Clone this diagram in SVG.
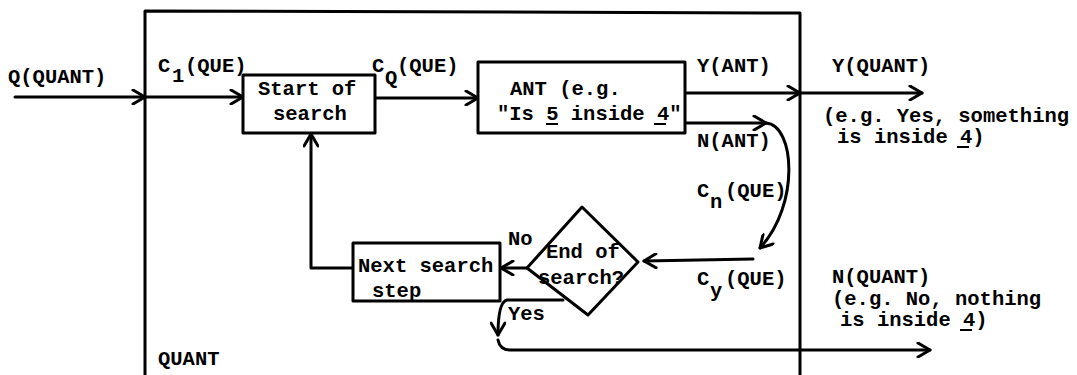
<svg xmlns="http://www.w3.org/2000/svg" width="1077" height="375" viewBox="0 0 1077 375">
<style>
text{font-family:"Liberation Mono","Courier New",monospace;font-weight:bold;font-size:20.5px;fill:#000}
.ln{fill:none;stroke:#000;stroke-width:3;stroke-linecap:round;stroke-linejoin:round}
.box{fill:#fff;stroke:#000;stroke-width:3;stroke-linejoin:round}
.ul{stroke:#000;stroke-width:2}
</style>
<defs>
<marker id="arr" viewBox="0 0 16 16" refX="14" refY="8" markerWidth="16" markerHeight="16" markerUnits="userSpaceOnUse" orient="auto">
<path d="M2,1 L14,8 L2,15" fill="none" stroke="#000" stroke-width="3" stroke-linecap="round" stroke-linejoin="round"/>
</marker>
</defs>
<rect width="1077" height="375" fill="#fff"/>

<g id="quant-frame">
<path class="ln" d="M145,375 L145,11 L800,13 L800,375"/>
<text x="158" y="365">QUANT</text>
</g>

<g id="connectors">
<path class="ln" d="M15,97 L145,97" marker-end="url(#arr)"/>
<path class="ln" d="M145,97 L243,97" marker-end="url(#arr)"/>
<path class="ln" d="M375,98 L478,98" marker-end="url(#arr)"/>
<path class="ln" d="M685,93 L800,93" marker-end="url(#arr)"/>
<path class="ln" d="M800,93 L922,93" marker-end="url(#arr)"/>
<path class="ln" d="M685,123 L766,123" marker-end="url(#arr)"/>
<path class="ln" d="M766,123 C795,125 800,205 760,248" marker-end="url(#arr)"/>
<path class="ln" d="M753,259 L644,261" marker-end="url(#arr)"/>
<path class="ln" d="M527,268 L501,268" marker-end="url(#arr)"/>
<path class="ln" d="M353,268 L311,268 L311,134" marker-end="url(#arr)"/>
<path class="ln" d="M563,300 L507,300 Q498,302 498,335" marker-end="url(#arr)"/>
<path class="ln" d="M498,340 Q500,350 510,350 L930,350" marker-end="url(#arr)"/>
</g>

<g id="labels">
<text x="8" y="83">Q(QUANT)</text>
<text x="158" y="72">C</text><text x="172" y="82">1</text><text x="185" y="72">(QUE)</text>
<text x="372" y="72">C</text><text x="385" y="84">Q</text><text x="397" y="72">(QUE)</text>
<text x="697" y="72">Y(ANT)</text>
<text x="697" y="147">N(ANT)</text>
<text x="697" y="197">C</text><text x="710" y="208">n</text><text x="725" y="197">(QUE)</text>
<text x="697" y="285">C</text><text x="710" y="297">y</text><text x="725" y="285">(QUE)</text>
<text x="832" y="72">Y(QUANT)</text>
<text x="823" y="122">(e.g. Yes, something</text>
<text x="837" y="143">is inside 4)</text>
<line class="ul" x1="957" y1="147" x2="969" y2="147"/>
<text x="832" y="283">N(QUANT)</text>
<text x="832" y="305">(e.g. No, nothing</text>
<text x="840" y="326">is inside 4)</text>
<line class="ul" x1="960" y1="330" x2="972" y2="330"/>
<text x="508" y="245">No</text>
<text x="508" y="320">Yes</text>
</g>

<g id="start-of-search">
<rect class="box" x="243" y="75" width="132" height="58"/>
<text x="258" y="95">Start of</text>
<text x="273" y="120">search</text>
</g>

<g id="ant">
<rect class="box" x="478" y="62" width="207" height="71"/>
<text x="510" y="95">ANT (e.g.</text>
<text x="497" y="120">"Is 5 inside 4"</text>
<line class="ul" x1="546" y1="124" x2="558" y2="124"/>
<line class="ul" x1="654" y1="124" x2="666" y2="124"/>
</g>

<g id="end-of-search">
<polygon class="box" points="582,207 638,262 588,315 527,268"/>
<text x="546" y="258">End of</text>
<text x="538" y="284">search?</text>
</g>

<g id="next-search-step">
<rect class="box" x="353" y="243" width="147" height="58"/>
<text x="358" y="272">Next search</text>
<text x="372" y="297">step</text>
</g>
</svg>
